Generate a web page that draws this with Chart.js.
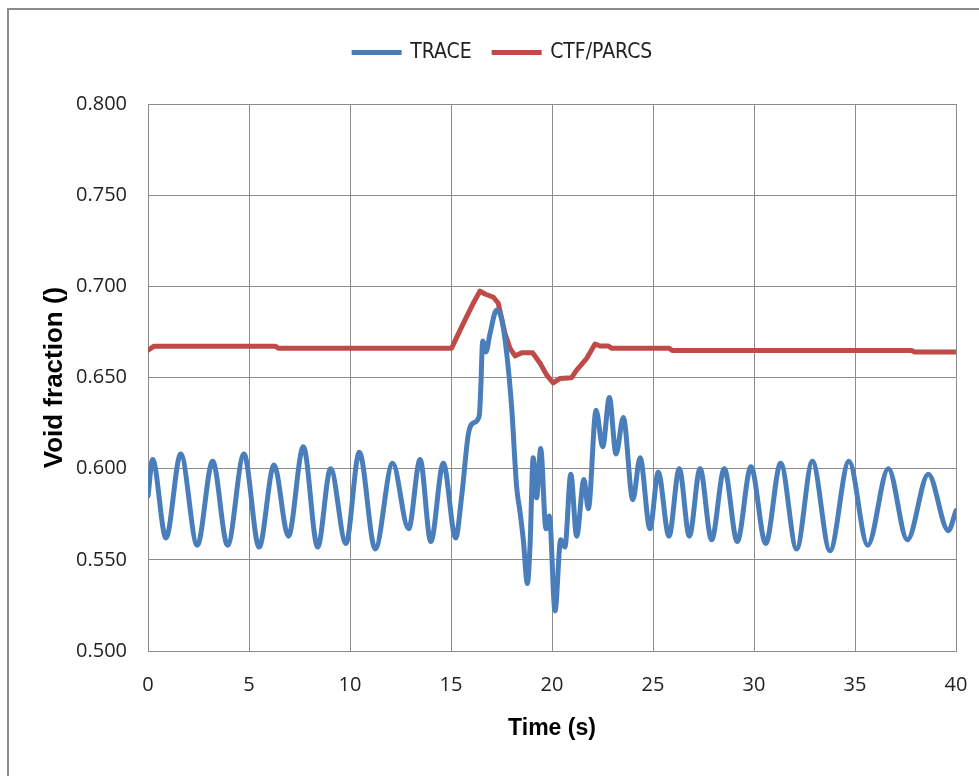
<!DOCTYPE html>
<html>
<head>
<meta charset="utf-8">
<title>Void fraction</title>
<script src="https://cdn.jsdelivr.net/npm/chart.js@4.4.1/dist/chart.umd.min.js"></script>
<style>
  html, body { margin: 0; padding: 0; background: #fff; overflow: hidden; }
  #frame {
    position: absolute; left: 7px; top: 8px; width: 1000px; height: 800px;
    border: 2px solid #8c8c8c; box-sizing: border-box;
  }
  #chartVoid { position: absolute; left: 0; top: 0; }
</style>
</head>
<body>
<div id="frame"></div>
<canvas id="chartVoid" width="979" height="776"></canvas>
<script>
// TRACE: tiempo (s) y fraccion de vacio
const traceTime = [
  0.0, 0.23, 0.89, 1.62, 2.44, 3.2, 3.94, 4.75, 5.5, 6.24, 6.95, 7.69, 8.4, 9.04, 9.8,
  10.46, 11.25, 12.11, 12.9, 13.47, 14.0, 14.62, 15.23, 15.53, 15.86, 16.1, 16.4, 16.47,
  16.57, 16.73, 16.93, 17.26, 17.51, 17.76, 18.0, 18.25, 18.42, 18.58, 18.78, 18.91, 19.07,
  19.24, 19.44, 19.7, 19.87, 20.15, 20.43, 20.64, 20.93, 21.22, 21.58, 21.8, 22.18, 22.51,
  22.84, 23.17, 23.53, 24.0, 24.36, 24.85, 25.26, 25.79, 26.3, 26.8, 27.33, 27.9, 28.53,
  29.17, 29.85, 30.58, 31.32, 32.11, 32.89, 33.76, 34.7, 35.63, 36.65, 37.59, 38.63, 39.62, 40.0
];
const traceVoid = [
  0.585, 0.605, 0.562, 0.608, 0.558, 0.604, 0.558, 0.608, 0.557, 0.602, 0.563, 0.612, 0.557, 0.600, 0.559,
  0.609, 0.556, 0.603, 0.567, 0.605, 0.560, 0.603, 0.562, 0.585, 0.619, 0.625, 0.629, 0.643,
  0.670, 0.664, 0.674, 0.687, 0.682, 0.663, 0.634, 0.590, 0.576, 0.561, 0.537, 0.557, 0.606,
  0.584, 0.611, 0.567, 0.574, 0.522, 0.561, 0.557, 0.597, 0.563, 0.594, 0.578, 0.632, 0.612,
  0.639, 0.608, 0.628, 0.583, 0.606, 0.567, 0.598, 0.563, 0.600, 0.563, 0.600, 0.561, 0.600,
  0.560, 0.601, 0.559, 0.603, 0.556, 0.604, 0.555, 0.604, 0.558, 0.600, 0.561, 0.597, 0.566, 0.577
];

// CTF/PARCS
const ctfTime = [
  0.0, 0.3, 6.3, 6.45, 15.03, 15.28, 15.69, 16.1, 16.44, 16.68, 17.1, 17.34, 17.67, 17.92,
  18.17, 18.5, 19.04, 19.41, 19.74, 20.06, 20.4, 20.97, 21.22, 21.72, 22.13, 22.38, 22.79,
  22.95, 25.8, 25.95, 37.8, 37.95, 40.0
];
const ctfVoid = [
  0.665, 0.6672, 0.6672, 0.666, 0.666, 0.672, 0.6815, 0.6907, 0.6974, 0.6958, 0.694, 0.6907, 0.6742, 0.666,
  0.6618, 0.6636, 0.6636, 0.6578, 0.6513, 0.6471, 0.6495, 0.6499, 0.6541, 0.6605, 0.6684, 0.6673, 0.6673,
  0.666, 0.666, 0.6648, 0.6648, 0.664, 0.664
];

const xTicks = [0, 5, 10, 15, 20, 25, 30, 35, 40];
const yTicks = [0.500, 0.550, 0.600, 0.650, 0.700, 0.750, 0.800];

const puntos = (xs, ys) => xs.map((t, i) => ({ x: t, y: ys[i] }));

const gris = "#8c8c8c";
const fuenteTicks = { family: "'Open Sans', 'Liberation Sans', sans-serif", size: 20 };

// corre la leyenda un poco a la derecha del centro del lienzo
const desplazaLeyenda = {
  id: "desplazaLeyenda",
  afterUpdate(chart) {
    chart.legend.left += 25;
    chart.legend.right += 25;
  }
};

var ctx = document.getElementById("chartVoid").getContext("2d");
var chartVoid = new Chart(ctx, {
  type: "line",
  data: {
    datasets: [{
      label: "TRACE",
      data: puntos(traceTime, traceVoid),
      borderColor: "#4a7ebb",
      backgroundColor: "#4a7ebb",
      borderWidth: 5,
      pointRadius: 0,
      cubicInterpolationMode: "monotone",
      borderCapStyle: "round",
      borderJoinStyle: "round",
      fill: false
    }, {
      label: "CTF/PARCS",
      data: puntos(ctfTime, ctfVoid),
      borderColor: "#be4b48",
      backgroundColor: "#be4b48",
      borderWidth: 5,
      pointRadius: 0,
      tension: 0,
      borderCapStyle: "round",
      borderJoinStyle: "round",
      fill: false
    }]
  },
  plugins: [desplazaLeyenda],
  options: {
    responsive: false,
    animation: false,
    devicePixelRatio: 1,
    layout: { padding: { top: 20, right: 23, bottom: 0, left: 0 } },
    plugins: {
      tooltip: { enabled: false },
      legend: {
        position: "top",
        labels: {
          boxWidth: 46,
          boxHeight: 1,
          padding: 22,
          color: "#222",
          font: { family: "'Liberation Sans Narrow', 'DejaVu Sans Condensed', 'Liberation Sans', sans-serif", size: 21 },
          // muestra de linea redondeada de 5 px
          generateLabels: chart => chart.data.datasets.map((ds, i) => ({
            text: ds.label,
            fillStyle: ds.borderColor,
            strokeStyle: ds.borderColor,
            lineWidth: 4,
            lineCap: "round",
            hidden: !chart.isDatasetVisible(i),
            datasetIndex: i,
            fontColor: "#222"
          }))
        }
      }
    },
    scales: {
      x: {
        type: "linear",
        min: 0,
        max: 40,
        afterBuildTicks: s => { s.ticks = xTicks.map(v => ({ value: v })); },
        afterFit: s => { s.height = 125; s.paddingLeft = 0; s.paddingRight = 0; },
        grid: { color: gris, lineWidth: 1, drawTicks: false },
        border: { color: gris, width: 1 },
        ticks: { padding: 22, color: "#222", font: fuenteTicks, maxRotation: 0 },
        title: {
          display: true,
          text: "Time (s)",
          color: "#000",
          padding: { top: 0, bottom: 34 },
          font: { family: "'Liberation Sans', Arial, sans-serif", size: 23, weight: "bold" }
        }
      },
      xTop: {
        type: "linear",
        position: "top",
        min: 0,
        max: 40,
        afterFit: s => { s.height = 31; s.paddingLeft = 0; s.paddingRight = 0; },
        grid: { display: false, drawTicks: false },
        border: { display: false },
        ticks: { display: false }
      },
      y: {
        min: 0.5,
        max: 0.8,
        afterBuildTicks: s => { s.ticks = yTicks.map(v => ({ value: v })); },
        afterFit: s => { s.width = 148; },
        grid: { color: gris, lineWidth: 1, drawTicks: false },
        border: { color: gris, width: 1 },
        ticks: { padding: 21, color: "#222", font: fuenteTicks, callback: v => v.toFixed(3) },
        title: {
          display: true,
          text: "Void fraction ()",
          color: "#000",
          padding: { top: 39, bottom: 0 },
          font: { family: "'Liberation Sans', Arial, sans-serif", size: 26, weight: "bold" }
        }
      }
    }
  }
});
</script>
</body>
</html>
